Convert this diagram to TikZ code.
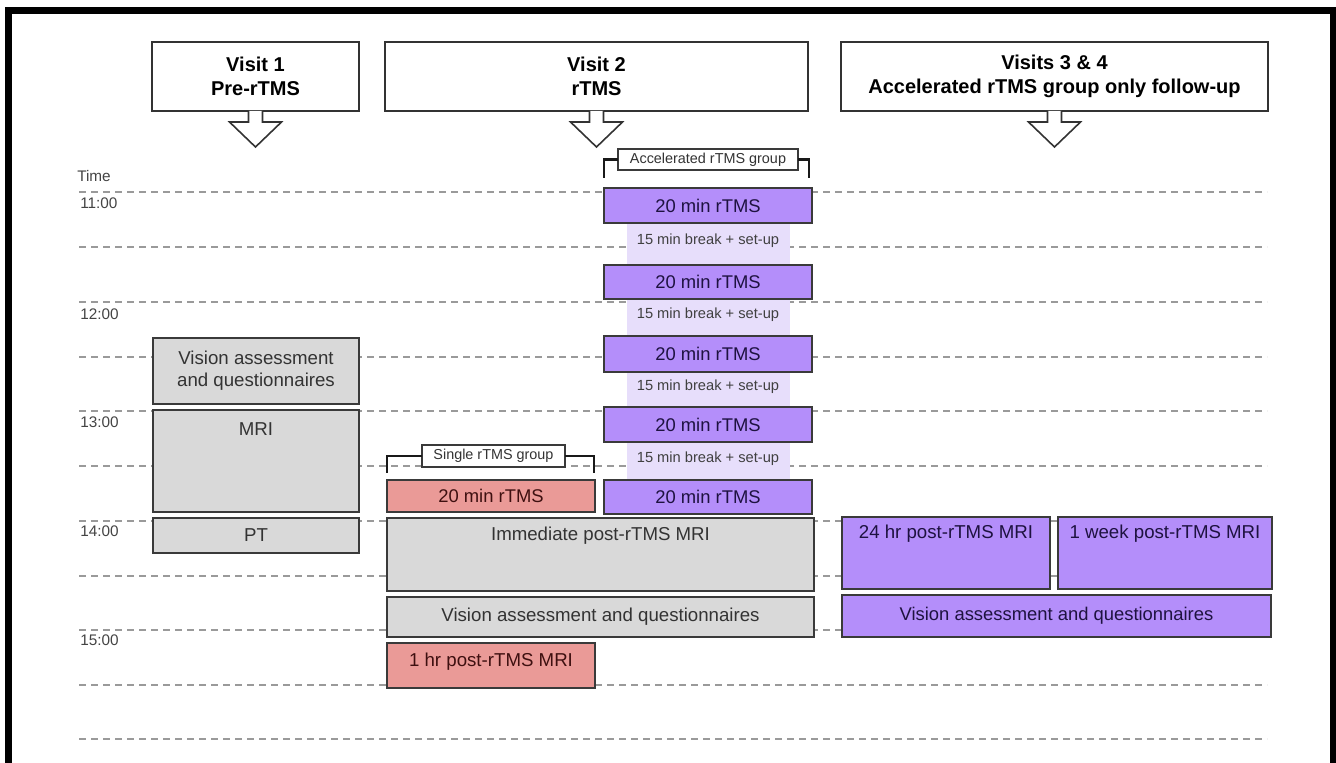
\documentclass[tikz,border=0pt]{standalone}
\usepackage{fontspec}
\setmainfont{Liberation Sans}
\usetikzlibrary{calc}
\definecolor{gridgray}{HTML}{9A9A9A}
\definecolor{boxgray}{HTML}{D9D9D9}
\definecolor{edgegray}{HTML}{3A3A3A}
\definecolor{purpfill}{HTML}{B48EFA}
\definecolor{lavfill}{HTML}{E7DEFB}
\definecolor{pinkfill}{HTML}{EA9A97}
\definecolor{purptext}{HTML}{1E1240}
\definecolor{pinktext}{HTML}{3E1010}
\definecolor{labelgray}{HTML}{444444}
% \blk{style}{name}{x1}{y1}{x2}{y2}{text}  (coordinates in px)
\newcommand\blk[7]{%
  \pgfmathsetmacro\blkw{(#5-#3)*0.75}%
  \pgfmathsetmacro\blkh{(#6-#4)*0.75}%
  \pgfmathsetmacro\blkx{(#3+#5)/2}%
  \pgfmathsetmacro\blky{(#4+#6)/2}%
  \node[#1, minimum width=\blkw pt, minimum height=\blkh pt] (#2) at (\blkx,\blky) {#7};}
\begin{document}
\begin{tikzpicture}[x=0.75pt,y=-0.75pt,
 gridline/.style={gridgray, line width=1.5pt, dash pattern=on 5.25pt off 3.75pt},
 tbox/.style={draw=edgegray, line width=1.2pt, inner sep=0pt, outer sep=0pt},
 graybox/.style={tbox, fill=boxgray, text=black!80, font=\fontsize{14}{16.5}\selectfont, align=center},
 purpbox/.style={tbox, fill=purpfill, text=purptext, font=\fontsize{13.8}{16}\selectfont, align=center},
 pinkbx/.style={tbox, fill=pinkfill, text=pinktext, font=\fontsize{13.8}{16}\selectfont, align=center},
 toptext/.style={inner sep=0pt, font=\fontsize{14}{16.5}\selectfont},
 hdrbox/.style={draw=black!80, line width=1.2pt, fill=white, inner sep=0pt, outer sep=0pt, font=\bfseries\fontsize{15}{17.5}\selectfont, align=center},
 blockarrow/.style={draw=black!80, line width=1.2pt, fill=white, line join=miter},
 grouplabel/.style={draw=edgegray, line width=1.1pt, fill=white, inner sep=0pt, outer sep=0pt, text=black!80, font=\fontsize{10.8}{13}\selectfont},
 bracket/.style={black!90, line width=2pt},
 timelabel/.style={text=labelgray, font=\fontsize{11.5}{13}\selectfont, anchor=west, inner sep=0pt},
 breaklabel/.style={text=black!75, font=\fontsize{11}{13}\selectfont, inner sep=0pt},
]
\useasboundingbox (0,0) rectangle (1336,763);
\clip (0,0) rectangle (1336,763);
\fill[white] (0,0) rectangle (1336,763);
% frame
\draw[black, line width=5pt] (8.5,800) -- (8.5,10.5) -- (1333.5,10.5) -- (1333.5,800);

% time grid
\foreach \yy in {192,247,302,357,411,466,521,576,630,685,739}
  \draw[gridline] (79,\yy) -- (1267,\yy);

% time labels
\node[timelabel] (tTime) at (77,176) {Time};
\node[timelabel] (t11) at (80,203) {11:00};
\node[timelabel] (t12) at (80,314) {12:00};
\node[timelabel] (t13) at (80,422) {13:00};
\node[timelabel] (t14) at (80,531) {14:00};
\node[timelabel] (t15) at (80,640) {15:00};

% headers
\blk{hdrbox}{h1}{152}{42}{359}{111}{Visit 1\\Pre-rTMS}
\blk{hdrbox}{h2}{385}{42}{808}{111}{Visit 2\\rTMS}
\blk{hdrbox}{h3}{841}{42}{1268}{111}{Visits 3 \& 4\\Accelerated rTMS group only follow-up}
\foreach \hh in {h1,h2,h3}{
  \draw[blockarrow] ($(\hh.south)+(-7,0)$) -- ($(\hh.south)+(-7,11)$) -- ($(\hh.south)+(-26,11)$)
     -- ($(\hh.south)+(0,36)$) -- ($(\hh.south)+(26,11)$) -- ($(\hh.south)+(7,11)$) -- ($(\hh.south)+(7,0)$);
}

% accelerated column background
\fill[lavfill] (627,223) rectangle (790,480);

% accelerated group
\blk{grouplabel}{acc}{618}{149}{798}{170}{Accelerated rTMS group}
\draw[bracket] (acc.west) -| (604,178);
\draw[bracket] (acc.east) -| (809,178);
\blk{purpbox}{r1}{604}{188}{812}{223}{20 min rTMS}
\blk{purpbox}{r2}{604}{265}{812}{299}{20 min rTMS}
\blk{purpbox}{r3}{604}{336}{812}{372}{20 min rTMS}
\blk{purpbox}{r4}{604}{407}{812}{442}{20 min rTMS}
\blk{purpbox}{r5}{604}{480}{812}{514}{20 min rTMS}
\node[breaklabel] (b1) at ($(r1.south)!0.42!(r2.north)$) {15 min break + set-up};
\node[breaklabel] (b2) at ($(r2.south)!0.42!(r3.north)$) {15 min break + set-up};
\node[breaklabel] (b3) at ($(r3.south)!0.42!(r4.north)$) {15 min break + set-up};
\node[breaklabel] (b4) at ($(r4.south)!0.45!(r5.north)$) {15 min break + set-up};

% single group
\blk{grouplabel}{sgl}{422}{445}{565}{467}{Single rTMS group}
\draw[bracket] (sgl.west) -| (387,473);
\draw[bracket] (sgl.east) -| (594,473);
\blk{pinkbx}{s1}{387}{480}{595}{512}{20 min rTMS}

% visit 2 common
\blk{graybox}{imm}{387}{518}{814}{591}{}
\node[toptext, text=black!80] (immt) at ($(imm.north)+(0,18)$) {Immediate post-rTMS MRI};
\blk{graybox}{vis2}{387}{597}{814}{637}{Vision assessment and questionnaires}
\blk{pinkbx}{hr1}{387}{643}{595}{688}{}
\node[toptext, text=pinktext] (hr1t) at ($(hr1.north)+(0,19)$) {1 hr post-rTMS MRI};

% visit 1
\blk{graybox}{vis1}{153}{338}{359}{404}{Vision assessment\\and questionnaires}
\blk{graybox}{mri}{153}{410}{359}{512}{}
\node[toptext, text=black!80] (mrit) at ($(mri.north)+(0,19)$) {MRI};
\blk{graybox}{pt}{153}{518}{359}{553}{PT}

% visits 3 & 4
\blk{purpbox}{d1}{842}{517}{1050}{589}{}
\node[toptext, text=purptext] (d1t) at ($(d1.north)+(0,17)$) {24 hr post-rTMS MRI};
\blk{purpbox}{w1}{1058}{517}{1272}{589}{}
\node[toptext, text=purptext] (w1t) at ($(w1.north)+(0,17)$) {1 week post-rTMS MRI};
\blk{purpbox}{vis3}{842}{595}{1271}{637}{Vision assessment and questionnaires}
\end{tikzpicture}
\end{document}
